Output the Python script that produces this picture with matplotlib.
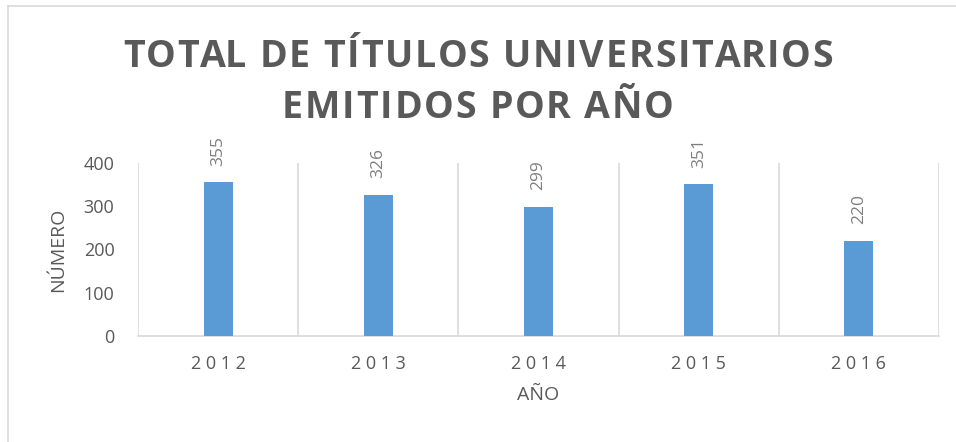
import matplotlib
matplotlib.use("Agg")
import matplotlib.pyplot as plt
from matplotlib.font_manager import FontProperties
from matplotlib.lines import Line2D

years = ["2012", "2013", "2014", "2015", "2016"]
titles = [355, 326, 299, 351, 220]
y_ticks = [0, 100, 200, 300, 400]

title_lines = ["TOTAL DE TÍTULOS UNIVERSITARIOS", "EMITIDOS POR AÑO"]

plt.rcParams["font.family"] = ["Open Sans", "DejaVu Sans"]

BAR = "#5B9BD5"
GRID = "#D9D9D9"
TEXT = "#595959"

W, H = 956, 442

fig = plt.figure(figsize=(W / 100, H / 100), dpi=100)
ax = fig.add_axes([138 / W, 1 - 336 / H, (939 - 138) / W, (336 - 163) / H])

x = list(range(len(years)))
bars = ax.bar(x, titles, width=0.18, color=BAR, zorder=3)

for bar, v in zip(bars, titles):
    ax.annotate(str(v), (bar.get_x() + bar.get_width() / 2, v),
                xytext=(0, 12), textcoords="offset points",
                rotation=90, ha="center", va="bottom",
                fontsize=12.5, color="#7F7F7F")

ax.set_xlim(-0.5, len(years) - 0.5)
ax.set_ylim(0, 400)
ax.set_yticks(y_ticks)
ax.set_yticklabels([str(t) for t in y_ticks], fontsize=13, color=TEXT)
ax.set_xticks(x)
ax.set_xticklabels([" ".join(y) for y in years], fontsize=13, color=TEXT)
ax.tick_params(axis="both", length=0)
ax.tick_params(axis="y", pad=17)
ax.tick_params(axis="x", pad=14)

for b in [i - 0.5 for i in range(len(years) + 1)]:
    ax.axvline(b, color=GRID, lw=1.2, zorder=1)
for side in ["left", "right", "top"]:
    ax.spines[side].set_visible(False)
ax.spines["bottom"].set_color(GRID)
ax.spines["bottom"].set_linewidth(1.2)

ax.set_ylabel("NÚMERO", fontsize=14, color=TEXT, labelpad=12)
ax.set_xlabel("AÑO", fontsize=14, color=TEXT, labelpad=9)

# title with letter spacing: place glyphs one by one
renderer = fig.canvas.get_renderer()
prop = FontProperties(family="Open Sans", weight="bold", size=27)
spacing = 1.8  # px between letters
for i, line in enumerate(title_lines):
    widths = [renderer.get_text_width_height_descent(line[:k], prop, ismath=False)[0]
              for k in range(len(line) + 1)]
    total = widths[-1] + spacing * (len(line) - 1)
    x0 = 478 - total / 2
    y_px = H - (67 + 51 * i)
    for k, ch in enumerate(line):
        if ch == " ":
            continue
        fig.text((x0 + widths[k] + spacing * k) / W, y_px / H, ch, ha="left", va="baseline",
                 fontproperties=prop, color=TEXT)

# chart frame (only left and top edges show)
fig.add_artist(Line2D([8 / W, 8 / W], [0, 1 - 6 / H], color=GRID, lw=1.2))
fig.add_artist(Line2D([8 / W, 1], [1 - 6 / H, 1 - 6 / H], color=GRID, lw=1.2))

fig.savefig("out.png", dpi=100)
